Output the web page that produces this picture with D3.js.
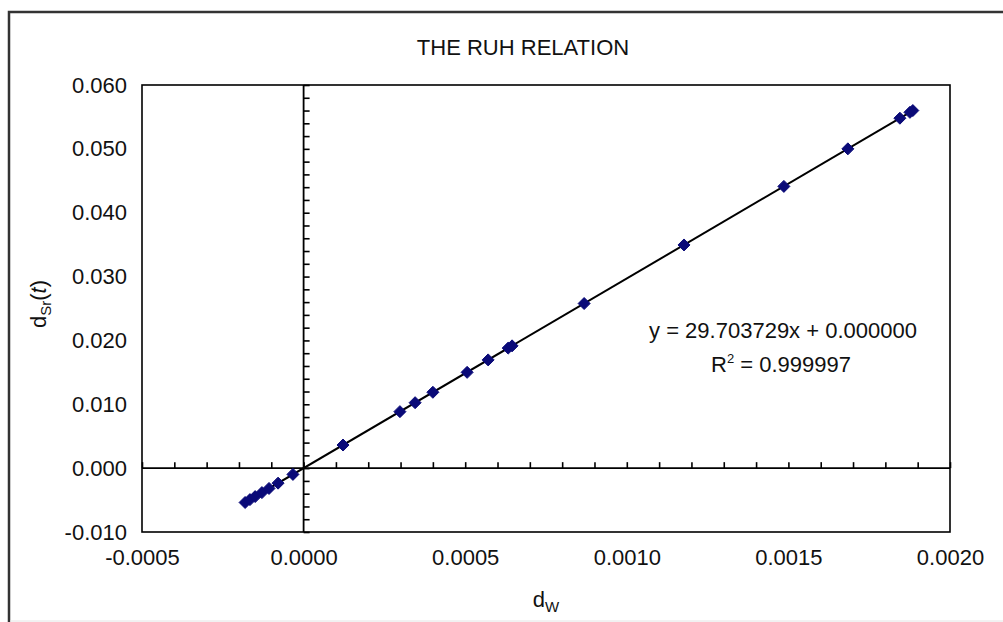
<!DOCTYPE html>
<html>
<head>
<meta charset="utf-8">
<script src="https://cdn.jsdelivr.net/npm/d3@7"></script>
<style>
  html, body { margin: 0; padding: 0; background: #fff; }
  svg { display: block; font-family: "Liberation Sans", Arial, sans-serif; }
</style>
</head>
<body>
<svg id="chart" width="1003" height="622"></svg>
<script>
// ---- data ----
const dW = [-0.000181, -0.000166, -0.000150, -0.000129, -0.000107, -0.000079, -0.000033,
            0.000122, 0.000298, 0.000345, 0.000400, 0.000506, 0.000571, 0.000633, 0.000645,
            0.000868, 0.001177, 0.001486, 0.001684, 0.001845, 0.001876, 0.001885];
const dSr = [-0.00538, -0.00493, -0.00446, -0.00383, -0.00318, -0.00235, -0.00098,
             0.00362, 0.00885, 0.01025, 0.01188, 0.01500, 0.01695, 0.01880, 0.01915,
             0.02578, 0.03495, 0.04412, 0.05000, 0.05480, 0.05572, 0.05600];
const xTicks = [-0.0005, 0.0000, 0.0005, 0.0010, 0.0015, 0.0020];
const yTicks = [-0.010, 0.000, 0.010, 0.020, 0.030, 0.040, 0.050, 0.060];
const slope = 29.703729, intercept = 0.000000, r2 = 0.999997;
const titleText = "THE RUH RELATION";

const svg = d3.select("#chart");
const L = 142, R = 950, T = 85, B = 532;
const FS = 22;
const x = d3.scaleLinear().domain([-0.0005, 0.002]).range([L, R]);
const y = d3.scaleLinear().domain([-0.01, 0.06]).range([B, T]);
const locale = d3.formatLocale({decimal: ".", thousands: ",", grouping: [3], currency: ["", ""], minus: "-"});

// outer chart frame
svg.append("path").attr("d", "M9,623 V12 H1010")
  .attr("fill", "none").attr("stroke", "#333").attr("stroke-width", 2.5);
svg.append("line").attr("x1", 10).attr("x2", 1003).attr("y1", 621).attr("y2", 621)
  .attr("stroke", "#e4e4e4").attr("stroke-width", 1);

// title
svg.append("text").attr("x", 523).attr("y", 55).attr("text-anchor", "middle")
  .attr("font-size", FS).attr("fill", "#111").text(titleText);

// plot border
svg.append("rect").attr("x", L).attr("y", T).attr("width", R - L).attr("height", B - T)
  .attr("fill", "none").attr("stroke", "#000").attr("stroke-width", 1.6);

// tick labels (bottom / left)
const xLab = svg.append("g").attr("transform", `translate(0,${B})`)
  .call(d3.axisBottom(x).tickValues(xTicks).tickSize(0).tickPadding(17)
    .tickFormat(locale.format(".4f")));
xLab.select(".domain").remove();
xLab.selectAll("text").attr("font-size", FS).attr("fill", "#111").attr("font-family", "Liberation Sans, Arial, sans-serif");

const yLab = svg.append("g").attr("transform", `translate(${L},0)`)
  .call(d3.axisLeft(y).tickValues(yTicks).tickSize(0).tickPadding(15)
    .tickFormat(locale.format(".3f")));
yLab.select(".domain").remove();
yLab.selectAll("text").attr("font-size", FS).attr("fill", "#111").attr("font-family", "Liberation Sans, Arial, sans-serif");

// zero axes with tick marks
const xMinor = d3.range(-5, 21).map(i => i * 0.0001);
const yMinor = d3.range(-5, 31).map(i => i * 0.002);
const xZero = svg.append("g").attr("transform", `translate(0,${y(0)})`)
  .call(d3.axisTop(x).tickValues(xMinor).tickSize(6).tickFormat(""));
xZero.select(".domain").attr("d", `M${L},0H${R}`).attr("stroke", "#000").attr("stroke-width", 1.8);
xZero.selectAll(".tick line").attr("stroke", "#000").attr("stroke-width", 1.6);

const yZero = svg.append("g").attr("transform", `translate(${x(0)},0)`)
  .call(d3.axisRight(y).tickValues(yMinor).tickSize(6).tickFormat(""));
yZero.select(".domain").attr("d", `M0,${T}V${B}`).attr("stroke", "#000").attr("stroke-width", 1.8);
yZero.selectAll(".tick line").attr("stroke", "#000").attr("stroke-width", 1.6);

// trend line
const xMin = d3.min(dW), xMax = d3.max(dW);
svg.append("line")
  .attr("x1", x(xMin)).attr("y1", y(slope * xMin + intercept))
  .attr("x2", x(xMax)).attr("y2", y(slope * xMax + intercept))
  .attr("stroke", "#000").attr("stroke-width", 2);

// markers (diamonds)
const s = 6;
svg.append("g").selectAll("path").data(d3.zip(dW, dSr)).join("path")
  .attr("transform", d => `translate(${x(d[0])},${y(d[1])})`)
  .attr("d", `M0,${-s}L${s},0L0,${s}L${-s},0Z`)
  .attr("fill", "#0a0a78").attr("stroke", "#0a0a78").attr("stroke-width", 1);

// equation
const eq = svg.append("text").attr("x", 783).attr("y", 338).attr("text-anchor", "middle")
  .attr("font-size", FS).attr("fill", "#111");
eq.text(`y = ${slope.toFixed(6)}x + ${intercept.toFixed(6)}`);
const rt = svg.append("text").attr("x", 781).attr("y", 372).attr("text-anchor", "middle")
  .attr("font-size", FS).attr("fill", "#111");
rt.append("tspan").text("R");
rt.append("tspan").attr("font-size", 13).attr("dy", -9).text("2");
rt.append("tspan").attr("dy", 9).text(" = " + r2.toFixed(6));

// axis titles
const xt = svg.append("text").attr("x", 546).attr("y", 607).attr("text-anchor", "middle")
  .attr("font-size", FS).attr("fill", "#111");
xt.append("tspan").text("d");
xt.append("tspan").attr("font-size", 15).attr("dy", 5).text("W");

const yt = svg.append("text").attr("transform", "translate(46,304) rotate(-90)")
  .attr("text-anchor", "middle").attr("font-size", FS).attr("fill", "#111");
yt.append("tspan").text("d");
yt.append("tspan").attr("font-size", 15).attr("dy", 5).text("Sr");
yt.append("tspan").attr("dy", -5).text("(");
yt.append("tspan").attr("font-style", "italic").text("t");
yt.append("tspan").text(")");
</script>
</body>
</html>
